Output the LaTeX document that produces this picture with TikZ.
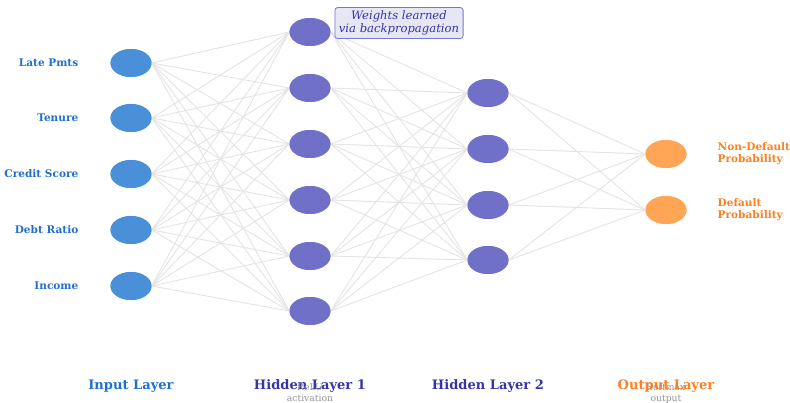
\documentclass[tikz,border=0pt]{standalone}
\usepackage{fontspec}
\setmainfont{DejaVu Serif}
\usetikzlibrary{shapes.geometric}
\definecolor{inC}{HTML}{4A90D9}
\definecolor{hidC}{HTML}{7070C8}
\definecolor{outC}{HTML}{FFA555}
\definecolor{inT}{HTML}{1F6FD0}
\definecolor{hidT}{HTML}{3535A8}
\definecolor{outT}{HTML}{FF8020}
\definecolor{edgeC}{HTML}{E4E4E4}
\definecolor{noteF}{HTML}{E6E6F5}
\definecolor{noteD}{HTML}{7777CC}
\begin{document}
\begin{tikzpicture}[x=0.75pt,y=-0.75pt,
  neuron/.style={ellipse,minimum width=30.75pt,minimum height=21pt,inner sep=0pt,draw=none},
  inN/.style={neuron,fill=inC},
  hidN/.style={neuron,fill=hidC},
  outN/.style={neuron,fill=outC},
  conn/.style={draw=edgeC,line width=0.7pt},
  inlab/.style={anchor=east,font=\bfseries\fontsize{7.9}{9}\selectfont,text=inT},
  outlab/.style={anchor=west,align=left,font=\bfseries\fontsize{7.9}{9}\selectfont,text=outT},
  title/.style={font=\bfseries\fontsize{9.8}{11}\selectfont},
  sub/.style={align=center,font=\fontsize{6.9}{8.2}\selectfont,text=gray!85},
  note/.style={draw=noteD,fill=noteF,rounded corners=2pt,line width=0.6pt,align=center,
    font=\itshape\fontsize{8.7}{9.6}\selectfont,text=hidT,inner xsep=3pt,inner ysep=2.5pt}]
\useasboundingbox (0,0) rectangle (790,403);
% nodes
\foreach \i/\y in {1/63,2/118,3/174,4/230,5/286} \node[inN] (i\i) at (131,\y) {};
\foreach \i/\y in {1/32,2/88,3/144,4/200,5/256,6/311} \node[hidN] (h\i) at (310,\y) {};
\foreach \i/\y in {1/93,2/149,3/205,4/260} \node[hidN] (g\i) at (488,\y) {};
\foreach \i/\y in {1/154,2/210} \node[outN] (o\i) at (666,\y) {};
% connections
\foreach \a in {1,...,5} \foreach \b in {1,...,6} \draw[conn] (i\a.east) -- (h\b.west);
\foreach \a in {1,...,6} \foreach \b in {1,...,4} \draw[conn] (h\a.east) -- (g\b.west);
\foreach \a in {1,...,4} \foreach \b in {1,2} \draw[conn] (g\a.east) -- (o\b.west);
% redraw nodes on top
\foreach \y in {63,118,174,230,286} \node[inN] at (131,\y) {};
\foreach \y in {32,88,144,200,256,311} \node[hidN] at (310,\y) {};
\foreach \y in {93,149,205,260} \node[hidN] at (488,\y) {};
\foreach \y in {154,210} \node[outN] at (666,\y) {};
% labels
\node[inlab] (l1) at (83,63) {Late Pmts};
\node[inlab] (l2) at (83,118) {Tenure};
\node[inlab] (l3) at (83,174) {Credit Score};
\node[inlab] (l4) at (83,230) {Debt Ratio};
\node[inlab] (l5) at (83,286) {Income};
\node[outlab] (r1) at (713,154) {Non-Default\\Probability};
\node[outlab] (r2) at (713,210) {Default\\Probability};
% titles
\node[title,text=inT] (t1) at (131,386) {Input Layer};
\node[title,text=hidT] (t2) at (310,386) {Hidden Layer 1};
\node[title,text=hidT] (t3) at (488,386) {Hidden Layer 2};
\node[title,text=outT] (t4) at (666,386) {Output Layer};
\node[sub] (s1) at (310,393) {ReLU\\activation};
\node[sub] (s2) at (666,393) {Softmax\\output};
% note
\node[note] (n) at (399,23) {Weights learned\\via backpropagation};
\end{tikzpicture}
\end{document}
